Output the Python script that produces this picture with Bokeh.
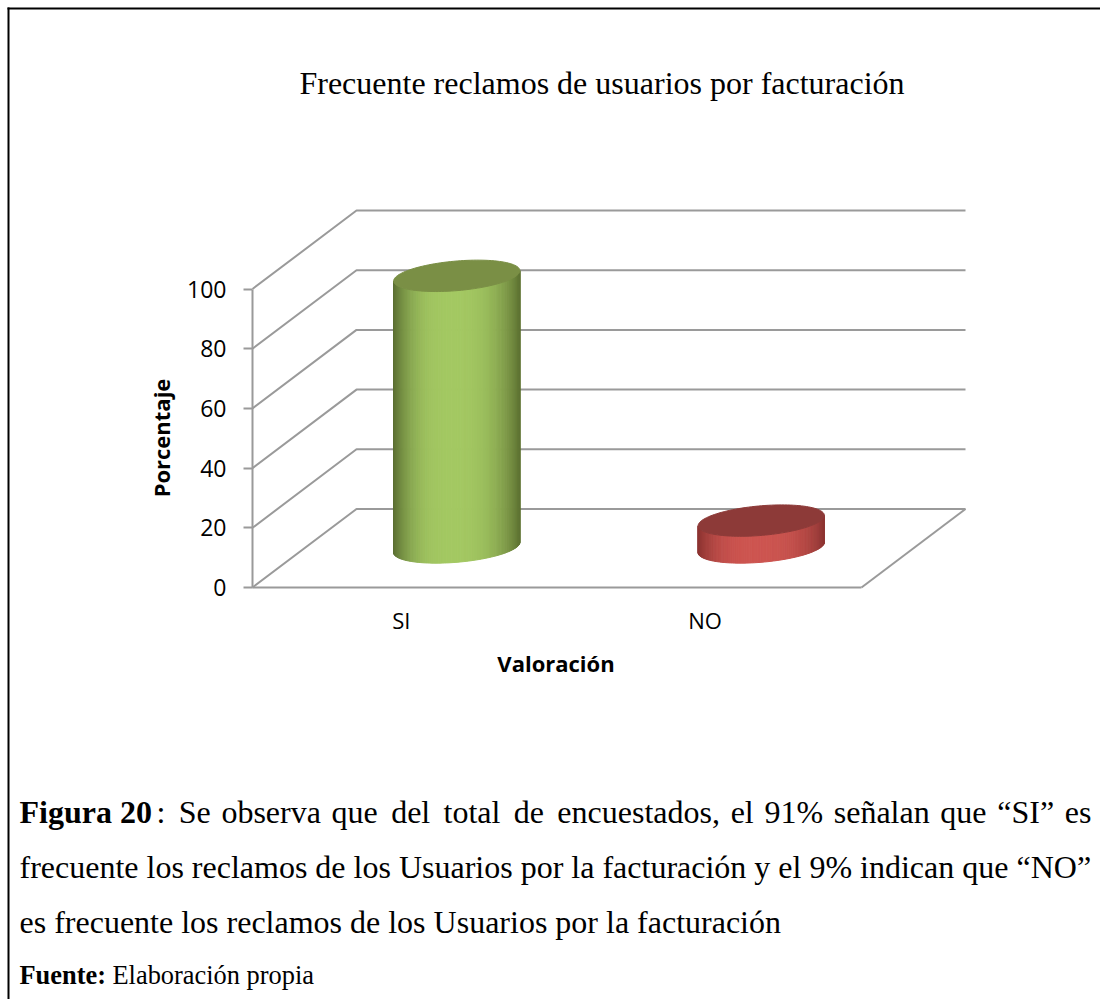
import numpy as np
from bokeh.core.properties import value
from bokeh.embed import file_html
from bokeh.resources import INLINE
from bokeh.plotting import figure
from bokeh.models import Range1d, FixedTicker

categories = ["SI", "NO"]
values = [91, 9]
y_ticks = [0, 20, 40, 60, 80, 100]
title = "Frecuente reclamos de usuarios por facturación"
y_title = "Porcentaje"
x_title = "Valoración"
side_colors = [("#5A6E32", "#A3C862", "#5F7333"), ("#8A3230", "#CD5550", "#8E3533")]
cap_colors = ["#7A8F45", "#8D3A38"]
axis_color = "#9A9A9A"

W, H = 1100, 999
PX_Y = 2.985
PX_X = 304.5
DEPTH_X = 104 / PX_X
DEPTH_Y = 78.5 / PX_Y
left, bottom = 252, 587


def X(px):
    return (px - left) / PX_X


def Y(py):
    return (bottom - py) / PX_Y


p = figure(width=W, height=H, output_backend="svg", toolbar_location=None,
           min_border_left=0, min_border_right=0, min_border_top=0, min_border_bottom=0,
           x_range=Range1d(X(0), X(W)), y_range=Range1d(Y(H), Y(0)))
p.outline_line_color = None
p.xgrid.visible = False
p.ygrid.visible = False
p.background_fill_color = "white"

ya = p.yaxis[0]
ya.fixed_location = 0
ya.ticker = FixedTicker(ticks=y_ticks)
ya.bounds = (0, 100)
ya.axis_line_color = axis_color
ya.axis_line_width = 2
ya.major_tick_line_color = axis_color
ya.major_tick_line_width = 2
ya.major_tick_out = 9
ya.major_tick_in = 0
ya.minor_tick_line_color = None
ya.major_label_standoff = 17
ya.major_label_text_font = "Open Sans"
ya.major_label_text_font_size = "23px"
ya.major_label_text_color = "black"

xa = p.xaxis[0]
xa.fixed_location = 0
xa.ticker = FixedTicker(ticks=[0.489, 1.486])
xa.major_label_overrides = {0.489: categories[0], 1.486: categories[1]}
xa.bounds = (0, 2)
xa.axis_line_color = axis_color
xa.axis_line_width = 2
xa.major_tick_line_color = None
xa.minor_tick_line_color = None
xa.major_label_standoff = 11
xa.major_label_text_font = "Open Sans"
xa.major_label_text_font_size = "22px"
xa.major_label_text_color = "black"

# walls
xs, ys = [], []
for t in y_ticks:
    xs.append([0, DEPTH_X, 2 + DEPTH_X])
    ys.append([t, t + DEPTH_Y, t + DEPTH_Y])
xs.append([2, 2 + DEPTH_X])
ys.append([0, DEPTH_Y])
p.multi_line(xs, ys, line_color=axis_color, line_width=2)

# cylinders in oblique projection
a = 59.6 / PX_X
depth = 0.2
b = depth * DEPTH_X
c = depth * DEPTH_Y
t0 = np.arctan2(b, a)


def ring(t, cx, cy):
    return cx + a * np.cos(t) + b * np.sin(t), cy + c * np.sin(t)


def shade(col, f):
    l, m, r = [np.array([int(h[i:i + 2], 16) for i in (1, 3, 5)], float) for h in col]
    e = 1 - abs((f - 0.46) / (0.54 if f > 0.46 else 0.46)) ** 2.8
    base = l if f < 0.46 else r
    v = base + (m - base) * e
    return "#%02x%02x%02x" % tuple(int(round(q)) for q in v)


for i, val in enumerate(values):
    cx = i + 0.5 + 0.5 * DEPTH_X
    cy = 0.51 * DEPTH_Y
    ts = np.linspace(t0 - np.pi, t0, 90)
    for j in range(len(ts) - 1):
        x0, y0 = ring(ts[j:j + 2], cx, cy)
        x1, y1 = ring(ts[j:j + 2][::-1], cx, cy + val)
        f = (0.5 * (x0[0] + x0[1]) - (cx - np.hypot(a, b))) / (2 * np.hypot(a, b))
        col = shade(side_colors[i], f)
        p.patch(list(x0) + list(x1), list(y0) + list(y1), fill_color=col, line_color=col, line_width=1)
    tt = np.linspace(0, 2 * np.pi, 120)
    ex, ey = ring(tt, cx, cy + val)
    p.patch(ex, ey, fill_color=cap_colors[i], line_color=cap_colors[i], line_width=1)


def txt(s, x, y, size, font="Liberation Serif", style="normal", align="left", angle=0):
    p.text(x=[X(x)], y=[Y(y)], text=[s], text_font=value(font), text_font_size=f"{size}px",
           text_font_style=style, text_align=align, text_baseline="alphabetic", angle=angle, text_color="black")


txt(title, 601.5, 82, 32, align="center")
txt(y_title, 160, 437.5, 22, font="Open Sans", style="bold", align="center", angle=np.pi / 2)
txt(x_title, 555.5, 662, 22, font="Open Sans", style="bold", align="center")

H1 = "\u200a"
line1 = (": " + H1 + H1 + "Se " + H1 + "observa " + H1 + "que " + H1 + H1 + "del " + H1 + H1 + "total " + H1 + H1
         + "de " + H1 + H1 + "encuestados, " + H1 + "el " + H1 + "91% " + H1 + "señalan " + H1 + "que " + H1
         + "“SI” " + H1 + "es")
txt("Figura 20", 19, 811, 32, style="bold")
txt(line1, 156, 811, 32)
txt("frecuente los reclamos de los Usuarios por la facturación y el 9% indican que “NO”", 19, 866, 32)
txt("es frecuente los reclamos de los Usuarios por la facturación", 19, 921, 32)
txt("Fuente:", 19, 974, 26.4, style="bold")
txt("Elaboración propia", 112, 974, 26.4)

# page frame
p.quad(left=[X(7), X(7)], right=[X(W), X(9)], top=[Y(7), Y(7)], bottom=[Y(9), Y(H)],
       fill_color="black", line_color=None)

open("out.html", "w").write(file_html(p, INLINE))
